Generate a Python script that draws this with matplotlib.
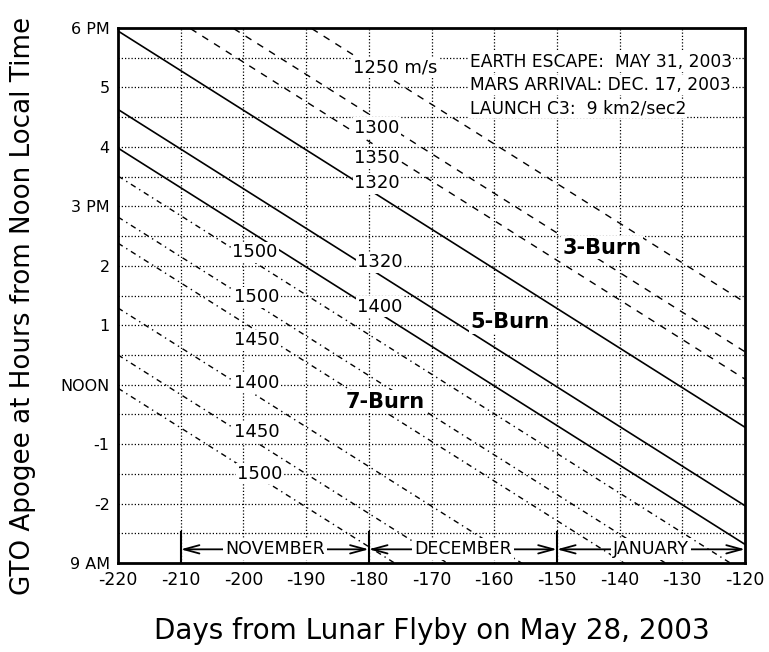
import numpy as np
import matplotlib.pyplot as plt

# x = days from lunar flyby, y = hours from noon (apogee local time)
x_lo, x_hi = -220, -120
slope = -1 / 15.0   # hours per day (4 min/day drift)

# hour at x=-220 for each constant-dV line
burn3_h0 = [8.05, 7.22, 6.76]          # dashed
burn5_h0 = [5.95, 4.63, 3.98]          # solid
burn7_h0 = [3.51, 2.82, 2.38, 1.29, 0.50, -0.06]   # dash-dot

# contour labels (text, x, y)
burn3_labels = [("1250 m/s", -175.8, 5.33), ("1300", -178.7, 4.32), ("1350", -178.7, 3.81)]
burn5_labels = [("1320", -178.7, 3.39), ("1320", -178.2, 2.06), ("1400", -178.2, 1.31)]
burn7_labels = [("1500", -198.2, 2.23), ("1500", -197.9, 1.47), ("1450", -197.9, 0.75),
                ("1400", -197.9, 0.03), ("1450", -197.9, -0.80), ("1500", -197.4, -1.50)]
burn_names = [("3-Burn", -142.8, 2.30), ("5-Burn", -157.5, 1.05), ("7-Burn", -177.4, -0.29)]

yticks = [6, 5, 4, 3, 2, 1, 0, -1, -2, -3]
ylabels = ["6 PM", "5", "4", "3 PM", "2", "1", "NOON", "-1", "-2", "9 AM"]
xticks = list(range(-220, -119, 10))

months = [("NOVEMBER", -210, -180), ("DECEMBER", -180, -150), ("JANUARY", -150, -120)]
info = ["EARTH ESCAPE:  MAY 31, 2003", "MARS ARRIVAL: DEC. 17, 2003", "LAUNCH C3:  9 km2/sec2"]

fig = plt.figure(figsize=(7.69, 6.52), dpi=100)
ax = fig.add_axes([118 / 769, 1 - 563 / 652, 627 / 769, 535 / 652])

# grid
for gx in range(-210, -120, 10):
    ax.axvline(gx, color='black', lw=0.9, ls=(0, (1, 1.6)), zorder=1)
for gy in np.arange(-2.5, 6, 0.5):
    ax.axhline(gy, color='black', lw=0.9, ls=(0, (1, 1.6)), zorder=1)

xs = np.array([x_lo, x_hi], dtype=float)
for h0 in burn3_h0:
    ax.plot(xs, h0 + slope * (xs - x_lo), color='black', lw=1.0, ls=(0, (5, 5)), zorder=2)
for h0 in burn5_h0:
    ax.plot(xs, h0 + slope * (xs - x_lo), color='black', lw=1.2, ls='-', zorder=2)
for h0 in burn7_h0:
    ax.plot(xs, h0 + slope * (xs - x_lo), color='black', lw=1.0, ls=(0, (4, 3, 1, 3)), zorder=2)

box = dict(facecolor='white', edgecolor='none', pad=1.0)
for txt, lx, ly in burn3_labels + burn5_labels + burn7_labels:
    ax.text(lx, ly, txt, fontsize=13, ha='center', va='center', bbox=box, zorder=4)
for txt, lx, ly in burn_names:
    ax.text(lx, ly, txt, fontsize=15, fontweight='bold', ha='center', va='center', bbox=box, zorder=4)

for i, line in enumerate(info):
    ax.text(-163.9, 5.43 - 0.39 * i, line, fontsize=12.3, ha='left', va='center',
            bbox=dict(facecolor='white', edgecolor='none', pad=0.5), zorder=4)

# month arrows along the bottom
ya = -2.77
for name, a, b in months:
    ax.plot([a, a], [-3, -2.48], color='black', lw=1.5, zorder=3)
    ax.annotate('', xy=(a, ya), xytext=(b, ya),
                arrowprops=dict(arrowstyle='<->, head_length=1.1, head_width=0.3', color='black', lw=1.3,
                                shrinkA=0, shrinkB=0), zorder=3)
    ax.text((a + b) / 2, ya, name, fontsize=12.5, ha='center', va='center',
            bbox=dict(facecolor='white', edgecolor='none', pad=1.5), zorder=4)

ax.set_xlim(x_lo, x_hi)
ax.set_ylim(-3, 6)
ax.set_xticks(xticks)
ax.set_xticklabels([str(t) for t in xticks], fontsize=12.5)
ax.set_yticks(yticks)
ax.set_yticklabels(ylabels, fontsize=11.5)
ax.tick_params(length=0, pad=6)
for s in ax.spines.values():
    s.set_linewidth(2)

ax.set_xlabel('Days from Lunar Flyby on May 28, 2003', fontsize=20, labelpad=20)
ax.set_ylabel('GTO Apogee at Hours from Noon Local Time', fontsize=18.8)
ax.yaxis.set_label_coords(-0.13, 0.48)

fig.savefig('out.png', dpi=100)
